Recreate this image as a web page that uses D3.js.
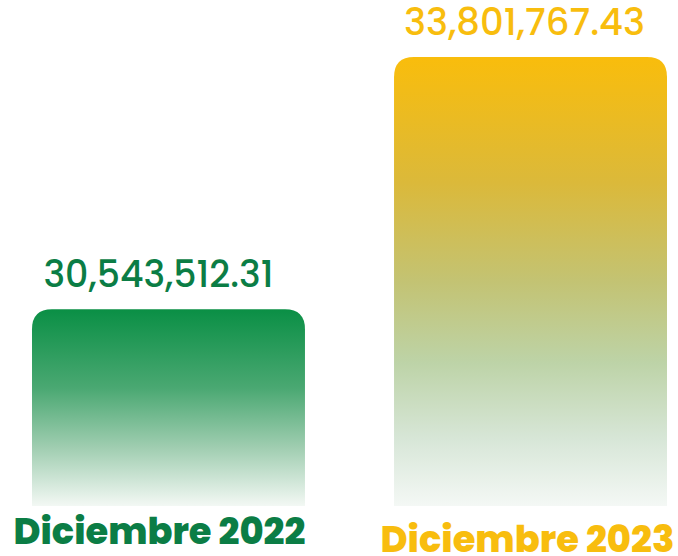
<!DOCTYPE html>
<html>
<head>
<meta charset="utf-8">
<script src="https://cdn.jsdelivr.net/npm/d3@7"></script>
<style>
  html, body { margin: 0; padding: 0; background: #fff; }
  svg { display: block; }
</style>
</head>
<body>
<div id="chart"></div>
<script>
const width = 678
const height = 556

// data
const categories = ['Diciembre 2022', 'Diciembre 2023']
const values = [30543512.31, 33801767.43]
const valueLabels = ['30,543,512.31', '33,801,767.43']
const labelColors = ['#0b7d45', '#f8bd0e']

const svg = d3.select('#chart')
  .append('svg')
  .attr('width', width)
  .attr('height', height)

const defs = svg.append('defs')

let g1 = defs.append('linearGradient')
  .attr('id', 'grad0').attr('x1', 0).attr('y1', 0).attr('x2', 0).attr('y2', 1)
g1.append('stop').attr('offset', '0%').attr('stop-color', '#0a8f45')
g1.append('stop').attr('offset', '40%').attr('stop-color', '#4aa872')
g1.append('stop').attr('offset', '70%').attr('stop-color', '#9fcdb0')
g1.append('stop').attr('offset', '100%').attr('stop-color', '#f3f8f4')

let g2 = defs.append('linearGradient')
  .attr('id', 'grad1').attr('x1', 0).attr('y1', 0).attr('x2', 0).attr('y2', 1)
g2.append('stop').attr('offset', '0%').attr('stop-color', '#f9bd0c')
g2.append('stop').attr('offset', '28%').attr('stop-color', '#dbb93a')
g2.append('stop').attr('offset', '50%').attr('stop-color', '#c3c373')
g2.append('stop').attr('offset', '68%').attr('stop-color', '#bdd3a7')
g2.append('stop').attr('offset', '85%').attr('stop-color', '#d7e6d7')
g2.append('stop').attr('offset', '100%').attr('stop-color', '#f4f8f5')

const x = d3.scaleBand()
  .domain(categories)
  .range([32, 667])
  .paddingInner(0.246)
  .paddingOuter(0)

const baseline = 506
const y = d3.scaleLinear()
  .domain([28000000, d3.max(values)])
  .range([baseline, 57])

const data = categories.map((c, i) => ({ cat: c, value: values[i], label: valueLabels[i], i: i }))

// bars with rounded top corners only
let barPath = function (d) {
  let x0 = x(d.cat), w = x.bandwidth(), y0 = y(d.value), r = 20
  return `M${x0},${baseline} L${x0},${y0 + r} Q${x0},${y0} ${x0 + r},${y0} ` +
    `L${x0 + w - r},${y0} Q${x0 + w},${y0} ${x0 + w},${y0 + r} L${x0 + w},${baseline} Z`
}

svg.selectAll('.bar')
  .data(data)
  .enter()
  .append('path')
  .attr('class', 'bar')
  .attr('d', barPath)
  .style('fill', d => `url(#grad${d.i})`)

// value labels (sit slightly left of the bar centre, like the original)
svg.selectAll('.value')
  .data(data)
  .enter()
  .append('text')
  .attr('class', 'value')
  .attr('x', d => x(d.cat) + x.bandwidth() / 2 - (d.i === 0 ? 10 : 6))
  .attr('y', d => y(d.value) - 22)
  .attr('text-anchor', 'middle')
  .style('font-family', "Poppins, 'Open Sans', sans-serif")
  .style('font-weight', 500)
  .style('font-size', '37px')
  .style('fill', d => labelColors[d.i])
  .attr('textLength', d => d.i === 0 ? 230 : 241)
  .attr('lengthAdjust', 'spacingAndGlyphs')
  .text(d => d.label)

// category labels
svg.selectAll('.cat')
  .data(data)
  .enter()
  .append('text')
  .attr('class', 'cat')
  .attr('x', d => x(d.cat) + x.bandwidth() / 2 - (d.i === 0 ? 9 : 3))
  .attr('y', d => d.i === 0 ? 544 : 552)
  .attr('text-anchor', 'middle')
  .style('font-family', "Poppins, 'Open Sans', sans-serif")
  .style('font-weight', 800)
  .style('font-size', '37px')
  .style('fill', d => labelColors[d.i])
  .attr('textLength', d => d.i === 0 ? 292 : 294)
  .attr('lengthAdjust', 'spacingAndGlyphs')
  .text(d => d.cat)
</script>
</body>
</html>
